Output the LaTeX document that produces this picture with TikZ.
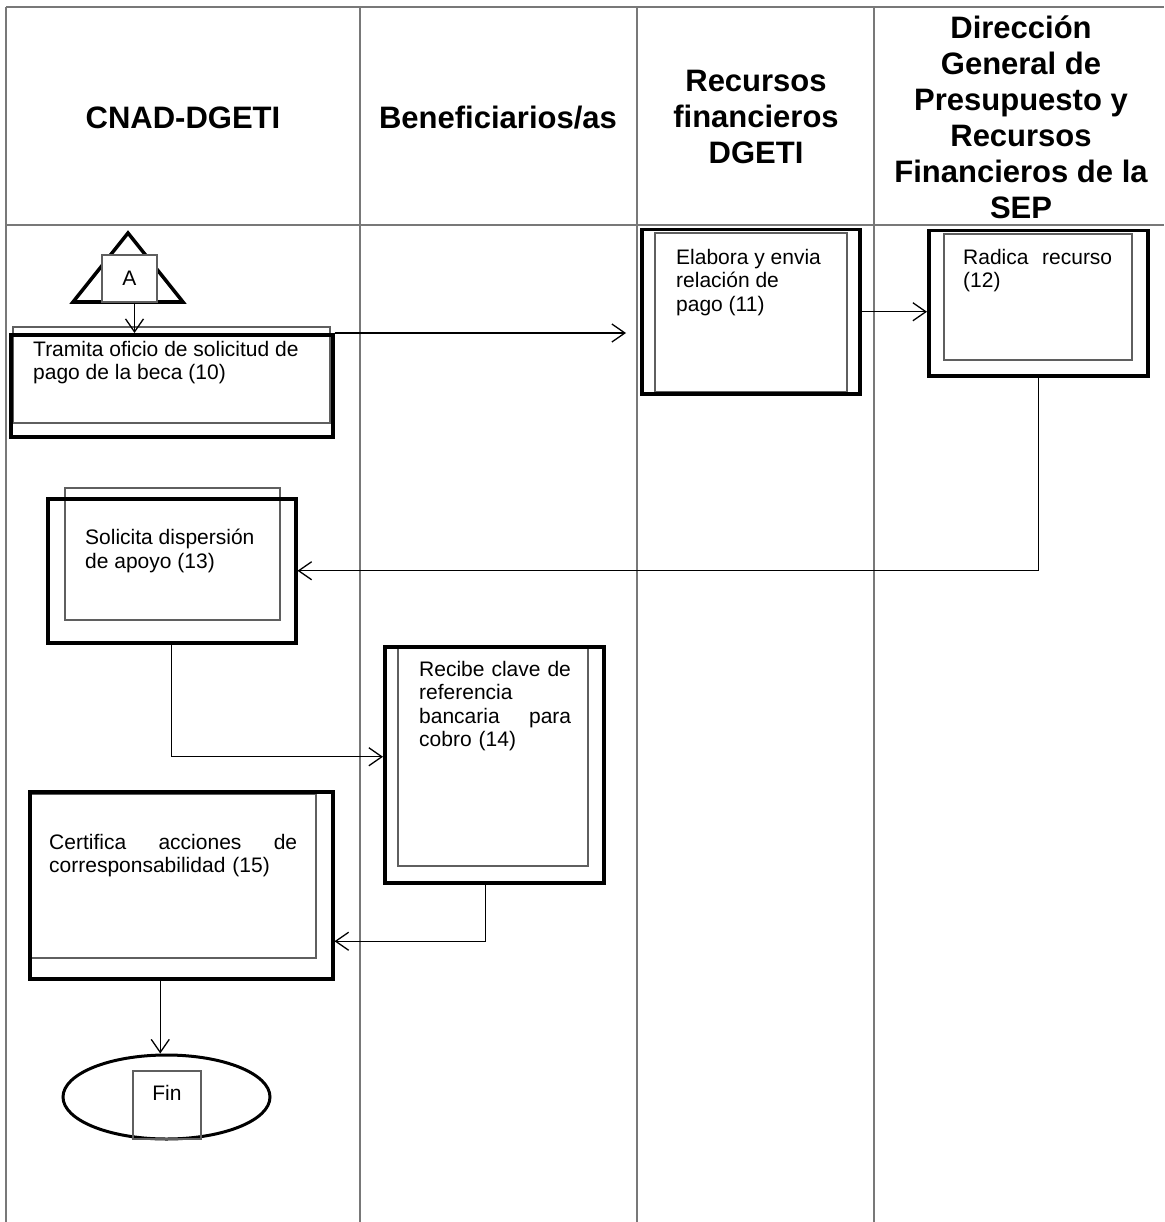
\documentclass[tikz,border=0pt]{standalone}
\usepackage{fontspec}
\setmainfont{Liberation Sans}
\usetikzlibrary{arrows.meta,shapes.geometric}
\definecolor{gridgray}{RGB}{120,120,120}
\definecolor{innergray}{RGB}{95,95,95}
\tikzset{
  lane/.style={draw=gridgray, line width=1.2pt},
  proc/.style={draw, line width=3.5pt, anchor=north west, inner sep=0pt},
  inner/.style={draw=innergray, line width=1.2pt},
  lbl/.style={anchor=north west, inner sep=0pt, align=left, font=\fontsize{21}{23.5}\selectfont},
  head/.style={align=center, font=\bfseries\fontsize{31}{36}\selectfont},
  arr/.style={line width=1.3pt, -{Straight Barb[length=13pt,width=18pt,line width=1.3pt]}}
}
\begin{document}
\begin{tikzpicture}[x=1pt, y=-1pt]
                \useasboundingbox (0,0) rectangle (1164,1222);
                % lanes
                \draw[lane] (6,7) -- (1164,7);
                \draw[lane] (6,225) -- (1164,225);
                \foreach \x in {6,360,637,874} \draw[lane] (\x,7) -- (\x,1222);
                \node[head] (h1) at (183,118) {CNAD-DGETI};
                \node[head] (h2) at (498,118) {Beneficiarios/as};
                \node[head] (h3) at (756,117) {Recursos\\financieros\\DGETI};
                \node[head] (h4) at (1021,117) {Dirección\\General de\\Presupuesto y\\Recursos\\Financieros de la\\SEP};
                % connector A
                \draw[line width=3.5pt] (128,233) -- (183,302) -- (73,302) -- cycle;
                \node[draw=innergray, fill=white, line width=1.2pt, minimum width=55pt, minimum height=47pt, inner sep=0pt, font=\fontsize{21}{24}\selectfont] (A) at (129.5,278.5) {A};
                % boxes
                \draw[inner] (13,327) rectangle (330,423);
                \node[proc, minimum width=322pt, minimum height=102pt] (p10) at (9,333) {};
                \node[lbl] (t10) at (33,341) {Tramita oficio de solicitud de\\pago de la beca (10)};
                \draw[inner] (655,233) rectangle (847,392);
                \node[proc, minimum width=218pt, minimum height=164pt] (p11) at (640,228) {};
                \node[lbl] (t11) at (676,249) {Elabora y envia\\relación de\\pago (11)};
                \draw[inner] (944,234) rectangle (1132,360);
                \node[proc, minimum width=219pt, minimum height=145pt] (p12) at (927,229) {};
                \node[lbl, text width=149pt] (t12) at (963,249) {Radica\hfill recurso\\(12)};
                \draw[inner] (65,488) rectangle (280,620);
                \node[proc, minimum width=248pt, minimum height=144pt] (p13) at (46,497) {};
                \node[lbl] (t13) at (85,529) {Solicita dispersión\\de apoyo (13)};
                \draw[inner] (398,648) rectangle (588,866);
                \node[proc, minimum width=219pt, minimum height=236pt] (p14) at (383,645) {};
                \node[lbl, text width=152pt] (t14) at (419,661) {Recibe clave de\\referencia\\bancaria\hfill para\\cobro (14)};
                \draw[inner] (31,794) rectangle (316,958);
                \node[proc, minimum width=303pt, minimum height=187pt] (p15) at (28,790) {};
                \node[lbl, text width=248pt] (t15) at (49,834) {Certifica\hfill acciones\hfill de\\corresponsabilidad (15)};
                % fin
                \node[ellipse, draw, line width=3pt, inner sep=0pt, minimum width=207pt, minimum height=84pt] (fin) at (166.5,1097) {};
                \draw[inner] (133,1071) rectangle (201,1139);
                \node[font=\fontsize{21}{24}\selectfont] (tfin) at (167,1093) {Fin};
                % flow
                \draw[arr] ([xshift=5pt]A.south) -- ([xshift=5pt]A.south |- p10.north);
                \draw[arr] (p10.north east) -- ([xshift=-14pt]p11.west |- p10.north east);
                \draw[arr] (p11.east) -- (p11.east -| p12.west);
                \draw[arr] (p12.south) |- (p13.east);
                \draw[arr] (p13.south) |- ([yshift=8pt]p14.west);
                \draw[arr] ([xshift=-9pt]p14.south) |- ([yshift=-56pt]p15.east);
                \draw[arr] ([xshift=-21pt]p15.south) -- ([xshift=-21pt]p15.south |- fin.north);
\end{tikzpicture}
\end{document}
